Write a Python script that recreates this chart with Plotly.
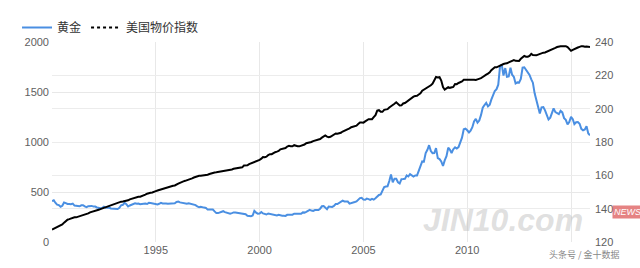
import pandas as pd
import plotly.graph_objects as go

# Monthly data, Jan 1990 - Dec 2015
gold = [
    410, 417, 393, 374, 369, 352, 362, 395, 389, 380, 381, 378,
    384, 364, 363, 358, 357, 367, 368, 356, 349, 358, 360, 361,
    354, 354, 345, 338, 337, 340, 353, 343, 345, 344, 335, 334,
    330, 328, 330, 342, 367, 372, 392, 379, 355, 365, 374, 383,
    387, 382, 384, 377, 381, 386, 385, 380, 391, 389, 384, 379,
    379, 376, 382, 391, 385, 387, 386, 383, 383, 383, 386, 387,
    400, 405, 396, 393, 392, 385, 383, 387, 383, 381, 378, 369,
    355, 347, 352, 344, 344, 341, 324, 324, 323, 325, 306, 289,
    289, 297, 296, 308, 299, 292, 293, 284, 289, 296, 294, 291,
    287, 287, 286, 282, 277, 262, 256, 257, 265, 311, 293, 283,
    284, 300, 286, 280, 275, 285, 282, 274, 273, 270, 266, 272,
    265, 262, 263, 261, 272, 270, 268, 273, 283, 283, 276, 276,
    282, 296, 294, 302, 314, 321, 314, 310, 319, 317, 319, 333,
    357, 359, 340, 328, 355, 356, 351, 360, 379, 379, 390, 407,
    414, 405, 406, 404, 384, 392, 398, 400, 406, 420, 439, 442,
    424, 423, 434, 429, 422, 431, 424, 437, 456, 470, 476, 510,
    549, 555, 557, 610, 676, 596, 633, 632, 598, 586, 628, 629,
    631, 665, 655, 679, 667, 655, 665, 665, 712, 754, 806, 803,
    889, 922, 968, 909, 888, 889, 939, 839, 829, 806, 760, 816,
    858, 943, 924, 890, 928, 946, 934, 949, 996, 1043, 1127, 1134,
    1117, 1095, 1113, 1148, 1205, 1232, 1193, 1215, 1271, 1343, 1370, 1391,
    1356, 1372, 1424, 1474, 1510, 1529, 1573, 1756, 1772, 1665, 1739, 1652,
    1656, 1742, 1673, 1650, 1585, 1596, 1594, 1630, 1744, 1747, 1722, 1685,
    1671, 1627, 1593, 1487, 1414, 1343, 1286, 1347, 1349, 1316, 1275, 1225,
    1244, 1300, 1336, 1299, 1288, 1279, 1311, 1296, 1239, 1222, 1176, 1200,
    1251, 1227, 1179, 1198, 1199, 1182, 1131, 1117, 1125, 1157, 1086, 1068,
]

cpi = [
    127.5, 128.0, 128.6, 128.9, 129.1, 129.9, 130.5, 131.6, 132.5, 133.4, 133.7, 134.2,
    134.7, 134.8, 134.8, 135.1, 135.6, 136.0, 136.2, 136.6, 137.0, 137.2, 137.8, 138.2,
    138.3, 138.6, 139.1, 139.4, 139.7, 140.1, 140.5, 140.8, 141.1, 141.7, 142.1, 142.3,
    142.8, 143.1, 143.3, 143.8, 144.2, 144.3, 144.5, 144.8, 145.0, 145.6, 146.0, 146.3,
    146.3, 146.7, 147.1, 147.2, 147.5, 147.9, 148.4, 149.0, 149.4, 149.5, 149.7, 150.3,
    150.5, 150.9, 151.2, 151.8, 152.1, 152.4, 152.6, 152.9, 153.1, 153.5, 153.7, 153.9,
    154.7, 155.0, 155.5, 156.1, 156.4, 156.7, 157.0, 157.2, 157.7, 158.2, 158.7, 159.1,
    159.4, 159.7, 159.8, 159.9, 159.9, 160.2, 160.4, 160.8, 161.2, 161.5, 161.7, 161.8,
    162.0, 162.0, 162.0, 162.2, 162.6, 162.8, 163.2, 163.4, 163.5, 163.9, 164.1, 164.4,
    164.7, 164.7, 164.8, 165.9, 166.0, 166.0, 166.7, 167.1, 167.8, 168.1, 168.4, 168.8,
    169.3, 170.0, 171.0, 170.9, 171.2, 172.2, 172.7, 172.7, 173.6, 173.9, 174.2, 174.6,
    175.6, 176.0, 176.1, 176.4, 177.3, 177.7, 177.4, 177.4, 178.1, 177.6, 177.5, 177.4,
    177.7, 178.0, 178.5, 179.3, 179.5, 179.6, 180.0, 180.5, 180.8, 181.2, 181.5, 181.8,
    182.6, 183.6, 183.9, 183.2, 182.9, 183.1, 183.7, 184.5, 185.1, 184.9, 185.0, 185.5,
    186.3, 186.7, 187.1, 187.4, 188.2, 188.9, 189.1, 189.2, 189.8, 190.8, 191.7, 191.7,
    191.6, 192.4, 193.1, 193.7, 193.6, 193.7, 194.9, 196.1, 198.8, 199.1, 198.1, 198.1,
    199.3, 199.4, 199.7, 200.7, 201.3, 201.8, 202.9, 203.8, 202.8, 201.9, 202.0, 203.1,
    203.4, 204.2, 205.3, 205.9, 206.8, 207.2, 207.6, 207.7, 208.5, 209.2, 210.8, 211.4,
    212.2, 213.0, 213.5, 214.0, 215.0, 216.9, 219.0, 218.7, 218.9, 216.9, 213.0, 211.4,
    211.9, 212.9, 212.5, 212.7, 213.0, 214.8, 214.7, 215.4, 215.8, 216.3, 217.3, 217.4,
    217.5, 217.3, 217.4, 217.4, 217.3, 217.2, 217.6, 217.9, 218.3, 219.0, 219.5, 220.4,
    221.0, 221.8, 223.1, 224.3, 224.9, 224.8, 225.4, 226.1, 226.6, 226.8, 227.1, 227.2,
    227.8, 228.3, 228.8, 229.2, 228.7, 228.5, 228.6, 229.9, 231.0, 231.6, 231.2, 231.2,
    231.7, 232.9, 232.2, 232.0, 232.0, 232.4, 232.9, 233.3, 233.6, 233.7, 234.1, 234.7,
    235.3, 235.5, 236.0, 236.5, 237.0, 237.4, 237.5, 237.5, 237.6, 237.5, 236.9, 236.0,
    234.7, 235.3, 235.9, 236.1, 236.7, 237.1, 237.5, 237.4, 237.1, 237.3, 237.3, 237.0,
]

dates = pd.date_range("1990-01-01", periods=len(gold), freq="MS")
year_ticks = ["1995-01-01", "2000-01-01", "2005-01-01", "2010-01-01", "2015-01-01"]
# the 2015 label is hidden under the source watermark in the original
year_labels = ["1995", "2000", "2005", "2010", ""]
left_ticks = [0, 500, 1000, 1500, 2000]
right_ticks = [120, 140, 160, 180, 200, 220, 240]

BLUE = "#4a8fe2"
CJK = "Noto Sans CJK SC, Noto Sans, sans-serif"
TICKFONT = dict(family="Liberation Sans, Arial, sans-serif", size=11, color="#606060")

fig = go.Figure()
fig.add_trace(go.Scatter(x=dates, y=gold, mode="lines", name="黄金",
                         line=dict(color=BLUE, width=2), yaxis="y"))
fig.add_trace(go.Scatter(x=dates, y=cpi, mode="lines", name="美国物价指数",
                         line=dict(color="#000000", width=2), yaxis="y2",
                         showlegend=False))
# legend entry for the CPI series (dotted sample as in the original legend)
fig.add_trace(go.Scatter(x=[None], y=[None], mode="lines", name="美国物价指数",
                         line=dict(color="#000000", width=2, dash="dot"), yaxis="y2"))

fig.update_layout(
    width=640, height=268,
    margin=dict(l=52, r=50, t=42, b=20),
    paper_bgcolor="white", plot_bgcolor="white",
    showlegend=True,
    legend=dict(orientation="h", x=-0.065, y=1.0, xanchor="left", yanchor="bottom",
                font=dict(family=CJK, size=12, color="#333333"),
                bgcolor="rgba(0,0,0,0)", itemwidth=30, tracegroupgap=0),
    xaxis=dict(range=["1990-01-01", "2015-12-01"], tickvals=year_ticks, ticktext=year_labels,
               showgrid=True, gridcolor="#e8e8e8", gridwidth=1, zeroline=False,
               showline=False, ticks="", tickfont=TICKFONT),
    yaxis=dict(range=[0, 2000], tickvals=left_ticks, showgrid=True, gridcolor="#e8e8e8",
               zeroline=False, showline=False, ticks="", tickfont=TICKFONT,
               ticklabelstandoff=2),
    yaxis2=dict(range=[120, 240], tickvals=right_ticks, overlaying="y", side="right",
                showgrid=True, gridcolor="#ececec", zeroline=False, showline=False,
                ticks="", tickfont=TICKFONT, ticklabelstandoff=4),
)

# faint watermarks of the original picture
fig.add_annotation(text="<b><i>JIN10.com</i></b>", xref="paper", yref="paper", x=0.99, y=0.01,
                   xanchor="right", yanchor="bottom", showarrow=False,
                   font=dict(family="Liberation Sans, Arial", size=32, color="rgba(185,185,185,0.45)"))
fig.add_annotation(text="<i>NEWS</i>", xref="paper", yref="paper", x=1.07, y=0.15,
                   xanchor="center", yanchor="middle", showarrow=False,
                   bgcolor="rgba(220,90,90,0.75)", borderpad=1,
                   font=dict(family="Liberation Sans, Arial", size=9, color="white"))
fig.add_annotation(text="头条号 / 金十数据", xref="paper", yref="paper", x=1.06, y=-0.06,
                   xanchor="right", yanchor="middle", showarrow=False,
                   font=dict(family=CJK, size=9, color="#888888"))

fig.write_html("out.html")
